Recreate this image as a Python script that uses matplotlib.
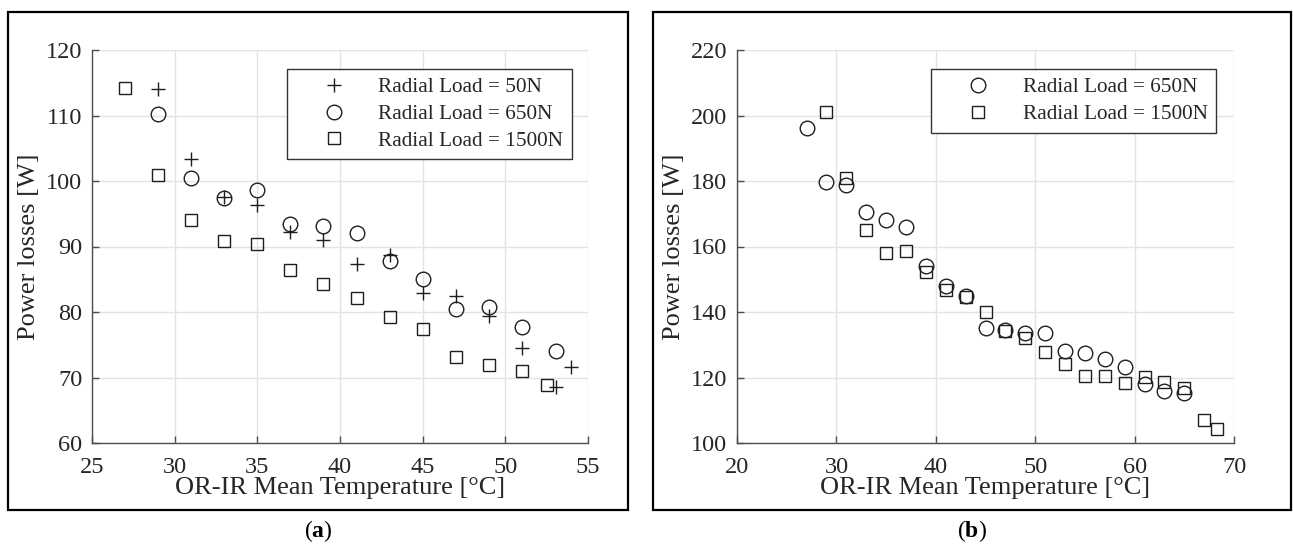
import numpy as np
import matplotlib.pyplot as plt
from matplotlib.patches import Rectangle

plt.rcParams['font.family'] = ['Liberation Serif', 'DejaVu Serif']
plt.rcParams['mathtext.fontset'] = 'custom'
plt.rcParams['mathtext.rm'] = 'Liberation Serif'
plt.rcParams['mathtext.bf'] = 'Liberation Serif:bold'

# (a) radial load comparison, three loads
a_x50 = [29, 31, 33, 35, 37, 39, 41, 43, 45, 47, 49, 51, 53.07, 53.96]
a_y50 = [114.0, 103.3, 97.6, 96.3, 92.2, 91.0, 87.4, 88.7, 82.85, 82.5, 79.4, 74.5, 68.5, 71.65]
a_x650 = [29, 31, 33, 35, 37, 39, 41, 43, 45, 47, 49, 51, 53.07]
a_y650 = [110.2, 100.4, 97.4, 98.7, 93.5, 93.2, 92.1, 87.8, 85.0, 80.5, 80.8, 77.7, 74.1]
a_x1500 = [27, 29, 31, 33, 35, 37, 39, 41, 43, 45, 47, 49, 51, 52.55]
a_y1500 = [114.2, 100.9, 94.0, 90.9, 90.4, 86.4, 84.3, 82.1, 79.3, 77.4, 73.2, 71.9, 71.0, 68.86]

# (b) two loads
b_x650 = [27, 29, 31, 33, 35, 37, 39, 41, 43, 45, 47, 49, 51, 53, 55, 57, 59, 61, 63, 65]
b_y650 = [196.3, 179.7, 178.7, 170.4, 168.2, 166.0, 153.9, 147.9, 145.0, 135.0, 134.4, 133.7,
          133.5, 128.1, 127.4, 125.5, 123.1, 118.0, 116.0, 115.4]
b_x1500 = [29, 31, 33, 35, 37, 39, 41, 43, 45, 47, 49, 51, 53, 55, 57, 59, 61, 63, 65, 67, 68.3]
b_y1500 = [201.1, 181.0, 165.1, 157.9, 158.5, 152.1, 146.6, 144.7, 140.1, 134.3, 132.1, 127.7,
           124.1, 120.5, 120.5, 118.4, 120.3, 118.7, 116.7, 106.9, 104.4]

lbl50 = 'Radial Load = 50N'
lbl650 = 'Radial Load = 650N'
lbl1500 = 'Radial Load = 1500N'

mk_col = '#1e1e1e'
ax_col = '#262626'

fig = plt.figure(figsize=(12.93, 5.45), dpi=100)
W, H = 1293, 545


def px_axes(l, t, r, b):
    return fig.add_axes([l / W, 1 - b / H, (r - l) / W, (b - t) / H])


def style(ax, xlim, ylim, xt, yt):
    ax.set_xlim(*xlim)
    ax.set_ylim(*ylim)
    ax.set_xticks(xt)
    ax.set_yticks(yt)
    ax.grid(True, color='#e3e3e3', lw=1.0)
    ax.set_axisbelow(True)
    for s in ['top', 'right']:
        ax.spines[s].set_visible(False)
    for s in ['left', 'bottom']:
        ax.spines[s].set_color('#4d4d4d')
        ax.spines[s].set_linewidth(1.0)
    ax.tick_params(direction='in', length=5, width=1.0, color='#4d4d4d',
                   labelsize=17.5, labelcolor=ax_col)
    ax.tick_params(axis='x', pad=10)
    ax.tick_params(axis='y', pad=7)
    ax.set_xlabel('OR-IR Mean Temperature [°C]', fontsize=19, color=ax_col)
    ax.set_ylabel('Power losses [W]', fontsize=19, color=ax_col)
    ax.xaxis.set_label_coords(0.5, -0.115)
    ax.xaxis.label.set_va('center')
    ax.yaxis.set_label_coords(-0.127, 0.5)
    ax.yaxis.label.set_va('center')


def leg(ax, anchor):
    lg = ax.legend(loc='upper right', bbox_to_anchor=anchor, borderaxespad=0,
                   fontsize=15.3, frameon=True, fancybox=False, framealpha=1,
                   edgecolor='#333333', handlelength=3.6, handletextpad=0.3,
                   borderpad=0.4, labelspacing=0.32)
    lg.get_frame().set_linewidth(1.0)
    for t in lg.get_texts():
        t.set_color(ax_col)


# panel (a)
ax1 = px_axes(92, 50, 588, 443)
ax1.plot(a_x50, a_y50, ls='none', marker='+', ms=10, mew=1.0, color=mk_col, label=lbl50)
ax1.plot(a_x650, a_y650, ls='none', marker='o', ms=10.5, mew=1.0, mfc='none', color=mk_col, label=lbl650)
ax1.plot(a_x1500, a_y1500, ls='none', marker='s', ms=9.3, mew=1.0, mfc='none', color=mk_col, label=lbl1500)
style(ax1, (25, 55), (60, 120), np.arange(25, 56, 5), np.arange(60, 121, 10))
leg(ax1, (0.9677, 0.9517))

# panel (b)
ax2 = px_axes(737, 50, 1234, 443)
ax2.plot(b_x650, b_y650, ls='none', marker='o', ms=10.5, mew=1.0, mfc='none', color=mk_col, label=lbl650)
ax2.plot(b_x1500, b_y1500, ls='none', marker='s', ms=9.3, mew=1.0, mfc='none', color=mk_col, label=lbl1500)
style(ax2, (20, 70), (100, 220), np.arange(20, 71, 10), np.arange(100, 221, 20))
leg(ax2, (0.9638, 0.9517))

# outer frames and captions
for l, r in [(8, 628), (653, 1291)]:
    fig.add_artist(Rectangle((l / W, 1 - 510 / H), (r - l) / W, (510 - 12) / H,
                             transform=fig.transFigure, fill=False, lw=1.6, ec='black'))
fig.text(318 / W, 1 - 531 / H, r'($\mathbf{a}$)', ha='center', va='center', fontsize=17)
fig.text(972 / W, 1 - 531 / H, r'($\mathbf{b}$)', ha='center', va='center', fontsize=17)

fig.savefig('out.png', dpi=100)
